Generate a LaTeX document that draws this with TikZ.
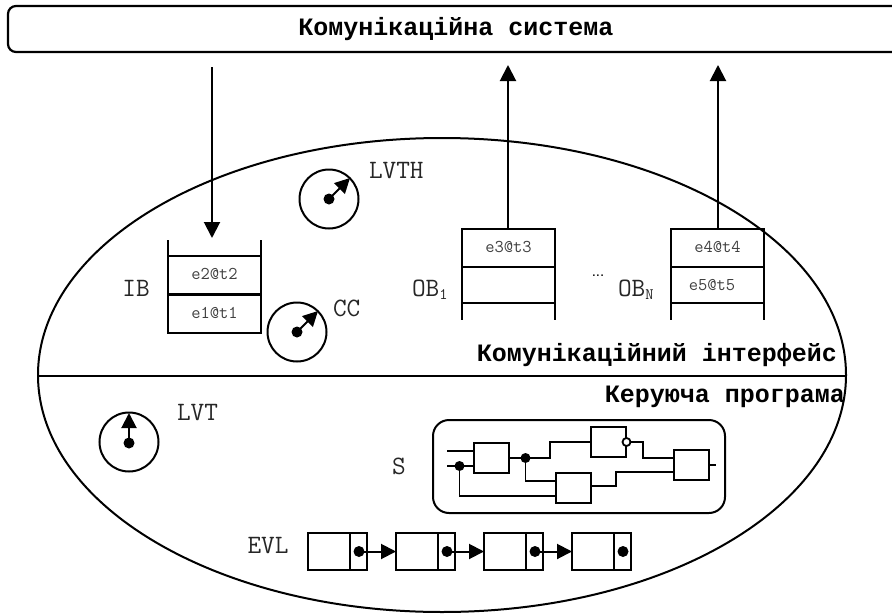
\documentclass[tikz,border=0pt]{standalone}
\usepackage{fontspec}
\setmainfont{Liberation Mono}
\newfontfamily\plainsans{Liberation Sans}
\usetikzlibrary{arrows.meta,shapes.geometric}
\tikzset{
  every node/.style={inner sep=0pt,outer sep=0pt},
  thick line/.style={line width=2pt},
  title/.style={font=\fontsize{25}{25}\selectfont\bfseries},
  lab/.style={font=\ttfamily\fontsize{26.5}{26.5}\selectfont,text=black!85},
  cell/.style={draw,line width=2pt,minimum width=93pt,font=\ttfamily\fontsize{18}{18}\selectfont,text=black!75},
  clock/.style={circle,draw,line width=2pt,minimum size=59pt},
  dot/.style={circle,fill=black,minimum size=11pt},
  smalldot/.style={circle,fill=black,minimum size=10pt},
  gate/.style={draw,line width=2pt,minimum width=35pt,minimum height=30pt},
  listcell/.style={draw,line width=2pt,minimum width=42pt,minimum height=37pt},
  listptr/.style={draw,line width=2pt,minimum width=17pt,minimum height=37pt},
  bigarrow/.style={line width=2pt,-{Triangle[length=16pt,width=16pt]}},
  hand/.style={line width=2pt,-{Triangle[length=15pt,width=15pt]}},
  linkarrow/.style={line width=2pt,-{Triangle[length=15pt,width=15pt]}},
  wire/.style={line width=1.8pt},
}
\begin{document}
\begin{tikzpicture}[x=1pt,y=-1pt]
\useasboundingbox (0,0) rectangle (892,616);
\clip (0,0) rectangle (892,616);
% top box
\node[draw,line width=2.2pt,rounded corners=8pt,minimum width=896pt,minimum height=46pt,title] (sys) at (456,29) {Комунікаційна система};
% ellipse
\node[ellipse,draw,line width=2pt,minimum width=808pt,minimum height=474pt] (ell) at (442,375) {};
\coordinate (divl) at (38,375.5);
\coordinate (divr) at (846,375.5);
\draw[line width=2pt] (divl) -- (divr);
% input buffer
\node[cell,minimum height=38.5pt] (ib2) at (214.5,275) {\raisebox{1.5pt}{e2@t2}};
\node[cell,minimum height=38pt] (ib1) at (214.5,313.5) {\raisebox{1.5pt}{e1@t1}};
\draw[thick line] (ib2.north west) -- ++(0,-16);
\draw[thick line] (ib2.north east) -- ++(0,-16);
\coordinate (inTop) at (212,67);
\coordinate (inTip) at (212,238);
\draw[bigarrow] (inTop) -- (inTip);
\node[lab] (ibl) at (136,288) {IB};
% output buffer 1
\node[cell,minimum height=38pt] (oa1) at (508.5,248) {\raisebox{1.5pt}{e3@t3}};
\node[cell,minimum height=36pt] (oa2) at (508.5,285) {};
\draw[thick line] (oa2.south west) -- ++(0,17);
\draw[thick line] (oa2.south east) -- ++(0,17);
\coordinate (oaTip) at (508,65);
\draw[bigarrow] (oa1.north -| oaTip) -- (oaTip);
\node[lab,anchor=base west] (oal) at (412,296) {OB\raisebox{-3pt}{\ttfamily\fontsize{16}{16}\selectfont 1}};
% dots
\node[font=\plainsans\fontsize{15}{15}\selectfont,anchor=base] (dts) at (598,276) {...};
% output buffer N
\node[cell,minimum height=38pt] (ob1) at (717.5,248) {\raisebox{1.5pt}{e4@t4}};
\node[cell,minimum height=36pt] (ob2) at (717.5,285) {};
\node[font=\ttfamily\fontsize{18}{18}\selectfont,text=black!75] (ob2t) at (712,285) {e5@t5};
\draw[thick line] (ob2.south west) -- ++(0,17);
\draw[thick line] (ob2.south east) -- ++(0,17);
\coordinate (obTip) at (718,65);
\draw[bigarrow] (ob1.north -| obTip) -- (obTip);
\node[lab,anchor=base west] (obl) at (618,296) {OB\raisebox{-3pt}{\ttfamily\fontsize{16}{16}\selectfont N}};
% clocks
\node[clock] (lvth) at (329,199) {};
\node[dot] (lvthd) at (329,199) {};
\coordinate (lvthTip) at (350,178);
\draw[hand] (lvthd.center) -- (lvthTip);
\node[lab,anchor=west] (lvthl) at (369,171) {LVTH};
\node[clock] (cc) at (297,332) {};
\node[dot] (ccd) at (297,332) {};
\coordinate (ccTip) at (318,311);
\draw[hand] (ccd.center) -- (ccTip);
\node[lab,anchor=west] (ccl) at (333,308) {CC};
\node[clock] (lvt) at (129,442) {};
\node[dot] (lvtd) at (129,443) {};
\coordinate (lvtTip) at (129,413);
\draw[hand] (lvtd.center) -- (lvtTip);
\node[lab,anchor=west] (lvtl) at (177,413) {LVT};
% section titles
\node[title,anchor=east] (ci) at (837,355) {Комунікаційний інтерфейс};
\node[title,anchor=east] (kp) at (845,397) {Керуюча програма};
% scheduler
\node[lab] (sl) at (399,466) {S};
\node[draw,line width=2pt,rounded corners=16pt,minimum width=292pt,minimum height=93pt] (sbox) at (579,466.5) {};
\node[gate] (g1) at (491.5,458) {};
\node[gate] (g2) at (608.5,442) {};
\node[gate] (g3) at (573.5,488) {};
\node[gate] (g4) at (691.5,465) {};
\coordinate (in1) at (447,451);
\coordinate (in2) at (447,466);
\node[smalldot] (j1) at (459.5,466) {};
\node[smalldot] (j2) at (525.5,458) {};
\node[circle,draw,fill=white,line width=1.8pt,minimum size=8pt] (nb) at (626.5,442) {};
\coordinate (out) at (716,465);
\coordinate (w3) at (616,486);
\draw[wire] (in1) -- (in1 -| g1.west);
\draw[wire] (in2) -- (in2 -| g1.west);
\draw[wire] (j1.center) -- (459.5,496) -- (556,496);
\draw[wire] (g1.east) -- (j2.center) -- (550,458) -- (550,442) -- (g2.west);
\draw[wire] (j2.center) -- (525.5,481) -- (556,481);
\draw[wire] (nb.east) -- (643,442) -- (643,458) -- (674,458);
\draw[wire] (g3.east |- w3) -- (w3) -- (616,472) -- (674,472);
\draw[wire] (g4.east) -- (out);
% event list
\node[lab] (evl) at (268,546) {EVL};
\foreach \n/\x in {a/308,b/396,c/484,d/572}{
  \node[listcell,anchor=west] (c\n) at (\x,551.5) {};
  \node[listptr,anchor=west] (p\n) at (\x+42,551.5) {};
  \node[dot] (d\n) at (\x+51,551.5) {};
}
\draw[linkarrow] (da.center) -- (cb.west);
\draw[linkarrow] (db.center) -- (cc.west);
\draw[linkarrow] (dc.center) -- (cd.west);
\end{tikzpicture}
\end{document}
